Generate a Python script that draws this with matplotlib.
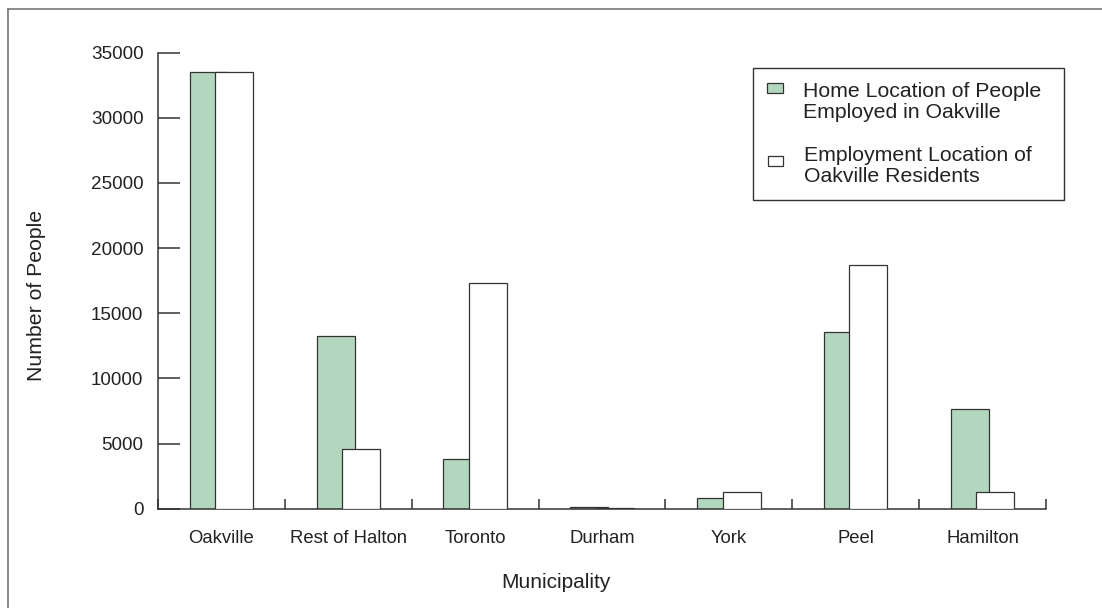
import numpy as np
import matplotlib.pyplot as plt
from matplotlib.lines import Line2D
from matplotlib.patches import Rectangle

plt.rcParams['font.family'] = ['Liberation Sans', 'DejaVu Sans']

municipalities = ['Oakville', 'Rest of Halton', 'Toronto', 'Durham', 'York', 'Peel', 'Hamilton']
home_location = [33500, 13250, 3800, 150, 850, 13550, 7650]
employment_location = [33500, 4600, 17300, 50, 1280, 18700, 1300]

green = '#b3d7be'
edge = '#333333'

fig = plt.figure(figsize=(11.02, 6.08), dpi=100)
ax = fig.add_axes([158 / 1102, 1 - 508.7 / 608, (1046 - 158) / 1102, (508.7 - 52.7) / 608])

x = np.arange(len(municipalities))
w = 0.3
off = 0.1
ax.bar(x - off, home_location, w, color=green, edgecolor=edge, linewidth=0.9, zorder=2)
ax.bar(x + off, employment_location, w, color='white', edgecolor=edge, linewidth=0.9, zorder=3)

ax.set_xlim(-0.5, len(municipalities) - 0.5)
ax.set_ylim(0, 35000)
ax.set_yticks(np.arange(0, 35001, 5000))
ax.set_xticks(x)
ax.set_xticklabels(municipalities)
ax.set_xticks(np.arange(-0.5, len(municipalities)), minor=True)

for s in ['top', 'right']:
    ax.spines[s].set_visible(False)
for s in ['left', 'bottom']:
    ax.spines[s].set_color(edge)
    ax.spines[s].set_linewidth(1.1)

ax.tick_params(axis='y', direction='in', length=15.8, width=1.1, color=edge,
               labelsize=13.6, pad=10.5, labelcolor='#222222')
ax.tick_params(axis='x', which='major', length=0, labelsize=13.3, pad=15, labelcolor='#222222')
ax.tick_params(axis='x', which='minor', direction='in', length=7.2, width=1.1, color=edge)

fig.text(556 / 1102, 1 - 583 / 608, 'Municipality', ha='center', va='center',
         fontsize=15, color='#222222')
fig.text(37 / 1102, 1 - 295 / 608, 'Number of People', ha='center', va='center',
         rotation=90, fontsize=15.3, color='#222222')

# legend box drawn by hand
fig.patches.append(Rectangle((753 / 1102, 1 - 200 / 608), (1064 - 753) / 1102, (200 - 68) / 608,
                             transform=fig.transFigure, facecolor='white', edgecolor=edge,
                             linewidth=1.0, zorder=5))
fig.patches.append(Rectangle((767 / 1102, 1 - 93 / 608), 16 / 1102, 10 / 608,
                             transform=fig.transFigure, facecolor=green, edgecolor=edge,
                             linewidth=0.9, zorder=6))
fig.patches.append(Rectangle((768 / 1102, 1 - 166 / 608), 15 / 1102, 10 / 608,
                             transform=fig.transFigure, facecolor='white', edgecolor=edge,
                             linewidth=0.9, zorder=6))
fig.text(803 / 1102, 1 - 82 / 608, 'Home Location of People\nEmployed in Oakville',
         ha='left', va='top', fontsize=15.3, color='#222222', linespacing=1.15, zorder=7)
fig.text(804 / 1102, 1 - 146 / 608, 'Employment Location of\nOakville Residents',
         ha='left', va='top', fontsize=15.3, color='#222222', linespacing=1.15, zorder=7)

# outer frame (left and top edges visible)
fig.lines.append(Line2D([7.5 / 1102, 7.5 / 1102], [0, 1 - 8.5 / 608], transform=fig.transFigure,
                        color='#777777', linewidth=1.2))
fig.lines.append(Line2D([7.5 / 1102, 1], [1 - 8.5 / 608, 1 - 8.5 / 608], transform=fig.transFigure,
                        color='#777777', linewidth=1.2))

fig.savefig('out.png', dpi=100)
